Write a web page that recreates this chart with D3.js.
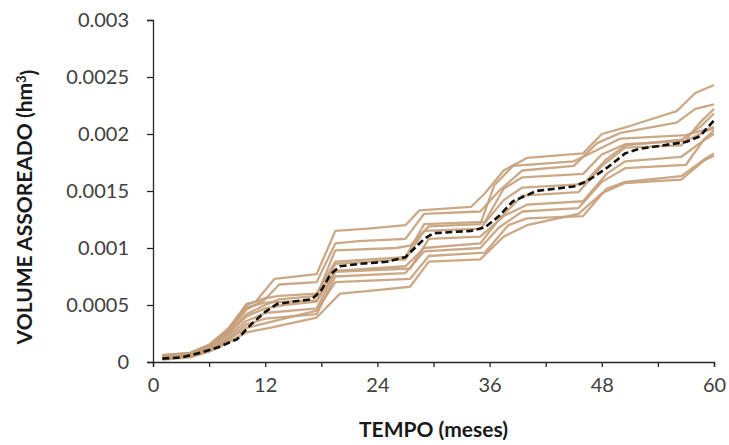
<!DOCTYPE html>
<html>
<head>
<meta charset="utf-8">
<script src="https://cdn.jsdelivr.net/npm/d3@7"></script>
<style>
  body { margin: 0; background: #fff; }
  svg { display: block; }
  .tick text { font-family: Lato, "Noto Sans", sans-serif; font-size: 20px; fill: #404040; }
  .axis-title { font-family: Lato, "Noto Sans", sans-serif; font-weight: bold; font-size: 21px; fill: #1a1a1a; }
</style>
</head>
<body>
<div id="chart"></div>
<script>
// months (x) and simulated silted volume (hm3)
var xTicks = [0, 6, 12, 18, 24, 30, 36, 42, 48, 54, 60],
    xLabels = [0, 12, 24, 36, 48, 60],
    yTicks = [0, 0.0005, 0.001, 0.0015, 0.002, 0.0025, 0.003],
    yLabels = ['0', '0.0005', '0.001', '0.0015', '0.002', '0.0025', '0.003'];

var sim1 = [[1,0.00006],[4,0.00008],[6,0.00015],[8,0.00028],[10,0.00051],[11,0.00053],[13,0.00073],[17.5,0.00077],[19.5,0.00115],[23,0.00117],[27,0.0012],[28.5,0.00133],[34,0.00136],[35.5,0.00148],[37.5,0.00168],[40,0.00179],[46,0.00183],[48,0.002],[51,0.00207],[56,0.0022],[58,0.00236],[60,0.00243]];
var sim2 = [[1,0.00005],[4,0.00007],[6,0.00014],[8,0.00026],[10,0.00046],[12,0.00055],[13.5,0.00068],[17.5,0.0007],[19.5,0.00104],[22,0.00106],[27,0.00108],[29,0.0013],[35,0.00132],[37,0.0015],[39.5,0.00168],[45,0.00172],[47.5,0.00192],[50,0.00201],[56,0.0021],[58,0.00222],[60,0.00226]];
var sim3 = [[1,0.00004],[4,0.00006],[6,0.00013],[8,0.00025],[10,0.00042],[12,0.0005],[13.5,0.00055],[17.5,0.00058],[19.5,0.00098],[26,0.001],[27.5,0.00102],[29.5,0.00119],[35,0.00121],[36.5,0.00155],[38.5,0.00172],[45,0.00176],[47,0.00184],[50,0.00196],[57,0.00199],[60,0.00206]];
var sim4 = [[1,0.00004],[4,0.00006],[6,0.00012],[8,0.00024],[10,0.0004],[12,0.00047],[14,0.0005],[17.5,0.00053],[19.5,0.0008],[27,0.00084],[29,0.001],[35,0.00104],[37,0.00125],[39.5,0.00146],[45.5,0.00149],[48,0.00172],[50.5,0.00188],[56.5,0.0019],[58.5,0.0021],[60,0.00222]];
var sim5 = [[1,0.00003],[4,0.00005],[6,0.00011],[8,0.00022],[10,0.00036],[12,0.00043],[17.5,0.00047],[19.5,0.00079],[27.5,0.00082],[29.5,0.00108],[35,0.0011],[37.5,0.00128],[40,0.00138],[46,0.00141],[48.5,0.00165],[50.5,0.00176],[56.5,0.0018],[59,0.00195],[60,0.002]];
var sim6 = [[1,0.00003],[4,0.00005],[6,0.0001],[8,0.0002],[10,0.00033],[12,0.00038],[17.5,0.00042],[19.5,0.00075],[27,0.00078],[29,0.00097],[35,0.001],[37,0.00118],[39.5,0.00132],[45.5,0.00135],[48,0.00158],[50.5,0.0017],[57,0.00173],[59,0.00196],[60,0.00203]];
var sim7 = [[1,0.00003],[4,0.00005],[6,0.0001],[8,0.00019],[10,0.0003],[12.5,0.00035],[17.5,0.00045],[19.5,0.0007],[27.5,0.00073],[29.5,0.00093],[35.5,0.00096],[38,0.0012],[40,0.00126],[46,0.00128],[48.5,0.00152],[50.5,0.00158],[56.5,0.00163],[59,0.00178],[60,0.00183]];
var sim8 = [[1,0.00002],[4,0.00004],[6,0.00009],[8,0.00017],[10,0.00026],[12.5,0.0003],[17.5,0.00039],[20,0.0006],[24,0.00063],[27.5,0.00066],[29.5,0.00088],[35,0.0009],[37.5,0.0011],[40,0.0012],[45.5,0.0013],[48,0.00148],[50.5,0.00157],[56.5,0.0016],[59,0.00177],[60,0.00181]];
var sim9 = [[1,0.00005],[4,0.00007],[6,0.00014],[8,0.00027],[10,0.00048],[12,0.00052],[17.5,0.00054],[19.5,0.00086],[27,0.0009],[29,0.00115],[35,0.00117],[37.5,0.00142],[39.5,0.00153],[46,0.00156],[48.5,0.00178],[50.5,0.0019],[56.5,0.00195],[58.5,0.00206],[60,0.00218]];
var sim10 = [[1,0.00006],[4,0.00008],[6,0.00015],[8,0.00029],[10,0.0005],[12,0.00056],[13.5,0.00058],[17.5,0.0006],[19.5,0.00088],[27,0.00092],[29,0.00121],[35.5,0.00123],[37.5,0.00152],[39.5,0.00162],[46,0.00165],[48,0.00182],[50.5,0.00191],[57,0.00194],[59,0.00202],[60,0.00205]];
var meanLine = [[1,0.00003],[3,0.00004],[5,0.00008],[7,0.00013],[9,0.0002],[10.5,0.00033],[12,0.00044],[13.3,0.00051],[15,0.00053],[17,0.00055],[18,0.00063],[19,0.00077],[20,0.00084],[22,0.00086],[25,0.00088],[27,0.00092],[28,0.001],[29,0.00108],[30,0.00113],[34,0.00115],[35.5,0.00118],[37,0.00128],[38.5,0.00141],[41,0.0015],[45,0.00154],[46.5,0.00159],[48.5,0.0017],[50.5,0.00183],[52,0.00187],[57,0.00193],[58.5,0.00198],[60,0.00212]];

var simulations = [sim1, sim2, sim3, sim4, sim5, sim6, sim7, sim8, sim9, sim10];

var width = 729, height = 445,
    margin = {top: 20, right: 15, bottom: 83, left: 153};

var svg = d3.select("#chart").append("svg")
    .attr("width", width)
    .attr("height", height);

var x = d3.scaleLinear().domain([0, 60]).range([margin.left, width - margin.right]),
    y = d3.scaleLinear().domain([0, 0.003]).range([height - margin.bottom, margin.top]);

var line = d3.line()
    .x(function(d) { return x(d[0]); })
    .y(function(d) { return y(d[1]); });

// simulated series
svg.append("g").selectAll(".sim").data(simulations)
    .enter().append("path")
    .attr("class", "sim")
    .attr("d", line)
    .style("fill", "none")
    .style("stroke", "#c5a07a")
    .style("stroke-opacity", 0.9)
    .style("stroke-width", "2.3px")
    .style("stroke-linejoin", "round");

// mean
svg.append("path")
    .datum(meanLine)
    .attr("d", line)
    .style("fill", "none")
    .style("stroke", "#111")
    .style("stroke-width", "2.6px")
    .style("stroke-linejoin", "round")
    .style("stroke-dasharray", "7,3.5");

var xAxis = svg.append("g")
    .attr("transform", "translate(0," + y(0) + ")")
    .call(d3.axisBottom(x).tickValues(xTicks).tickSize(5).tickPadding(11)
      .tickFormat(function(d) { return xLabels.indexOf(d) >= 0 ? d : ''; }));

var yAxis = svg.append("g")
    .attr("transform", "translate(" + x(0) + ",0)")
    .call(d3.axisLeft(y).tickValues(yTicks).tickSize(6).tickPadding(18)
      .tickFormat(function(d, i) { return yLabels[i]; }));

[xAxis, yAxis].forEach(function(a) {
  a.select(".domain").style("stroke", "#262626").style("stroke-width", "1.3px");
  a.selectAll(".tick line").style("stroke", "#262626").style("stroke-width", "1.3px");
});

svg.append("text")
    .attr("class", "axis-title")
    .attr("x", (x(0) + x(60)) / 2)
    .attr("y", 437)
    .attr("text-anchor", "middle")
    .text("TEMPO (meses)");

var yt = svg.append("text")
    .attr("class", "axis-title")
    .attr("text-anchor", "middle")
    .attr("transform", "translate(32,207) rotate(-90)");
yt.append("tspan").text("VOLUME ASSOREADO (hm");
yt.append("tspan").attr("dy", "-0.45em").style("font-size", "13px").text("3");
yt.append("tspan").attr("dy", "0.45em").text(")");
</script>
</body>
</html>
